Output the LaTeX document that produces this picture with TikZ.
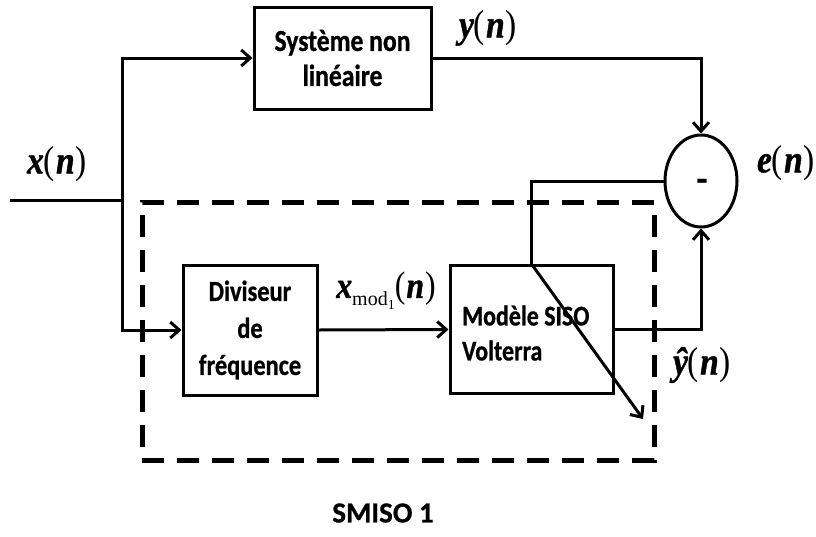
\documentclass[tikz,border=0pt]{standalone}
\usepackage{fontspec}
\usetikzlibrary{arrows.meta,shapes.geometric}
\newfontfamily\boxfont[FakeStretch=0.84,FakeBold=0.8]{Carlito Bold}
\newfontfamily\capfont[FakeBold=0.8]{Carlito Bold}
\newfontfamily\tnr{Liberation Serif}
\newfontfamily\tnrup[FakeStretch=0.86]{Liberation Serif}
\newfontfamily\tnrbi[FakeStretch=0.86,FakeBold=1]{Liberation Serif Bold Italic}
\newcommand{\bi}[1]{{\tnrbi #1}}
\newcommand{\sig}[1]{{\tnrup\fontsize{39}{39}\selectfont \bi{#1}(\kern1pt\bi{n}\kern1pt)}}
\tikzset{
  blk/.style={draw, line width=3pt, inner sep=0pt, font=\boxfont\fontsize{29}{35}\selectfont, align=center},
  wire/.style={line width=3pt},
  arr/.style={line width=3pt, -{Straight Barb[length=9pt,width=16pt,line width=3pt]}},
  lbl/.style={inner sep=0pt},
}
\begin{document}
\begin{tikzpicture}[x=1pt,y=-1pt]
\useasboundingbox (0,0) rectangle (816,536);
% blocks
\node[blk, minimum width=177, minimum height=102, font=\boxfont\fontsize{30.5}{35}\selectfont] (top) at (342.5,58) {Système non\\linéaire};
\node[blk, minimum width=134, minimum height=130, font=\boxfont\fontsize{29}{37}\selectfont] (div) at (250,330) {Diviseur\\de\\fréquence};
\node[blk, minimum width=163, minimum height=128] (volt) at (531.5,329.5) {};
\node[lbl, anchor=west, align=left, font=\boxfont\fontsize{28.5}{35}\selectfont] (volttxt) at (462,333) {Modèle SISO\\Volterra};
\node[draw, ellipse, line width=3pt, minimum width=72, minimum height=92, inner sep=0pt] (sum) at (701,181) {};
\node[lbl, font=\capfont\fontsize{36}{36}\selectfont] (minus) at (702,185) {-};
% dashed SMISO box
\node[draw, dash pattern=on 22pt off 13pt, line width=5pt, minimum width=512, minimum height=258, inner sep=0pt] (smiso) at (398,331) {};
% coordinates
\coordinate (in) at (10,200);
\coordinate (split) at (122,200);
\coordinate (diag) at (643,419);
% wires
\draw[wire] (in) -- (split);
\draw[arr] (split) |- (top.west);
\draw[arr] (split) |- (div.west);
\draw[arr] (div.east) -- (volt.west);
\draw[arr] (top.east) -| (sum.north);
\draw[arr] (volt.east) -| (sum.south);
\draw[wire] (sum.west) -| (volt.north);
\draw[arr] (volt.north) -- (diag);
% labels
\node[lbl] (xn) at (57,164) {\sig{x}};
\node[lbl] (yn) at (488,28) {\sig{y}};
\node[lbl] (en) at (786,163) {\sig{e}};
\node[lbl] (yhn) at (702,365) {\sig{\^{y}}};
\node[lbl] (xmod) at (386,291) {{\tnrup\fontsize{37}{37}\selectfont \bi{x}\raisebox{-8pt}{\tnr\fontsize{20}{20}\selectfont mod\raisebox{-4pt}{\fontsize{14}{14}\selectfont 1}}(\kern1pt\bi{n}\kern1pt)}};
\node[lbl, font=\capfont\fontsize{29}{29}\selectfont] (title) at (383,513) {SMISO 1};
\end{tikzpicture}
\end{document}
